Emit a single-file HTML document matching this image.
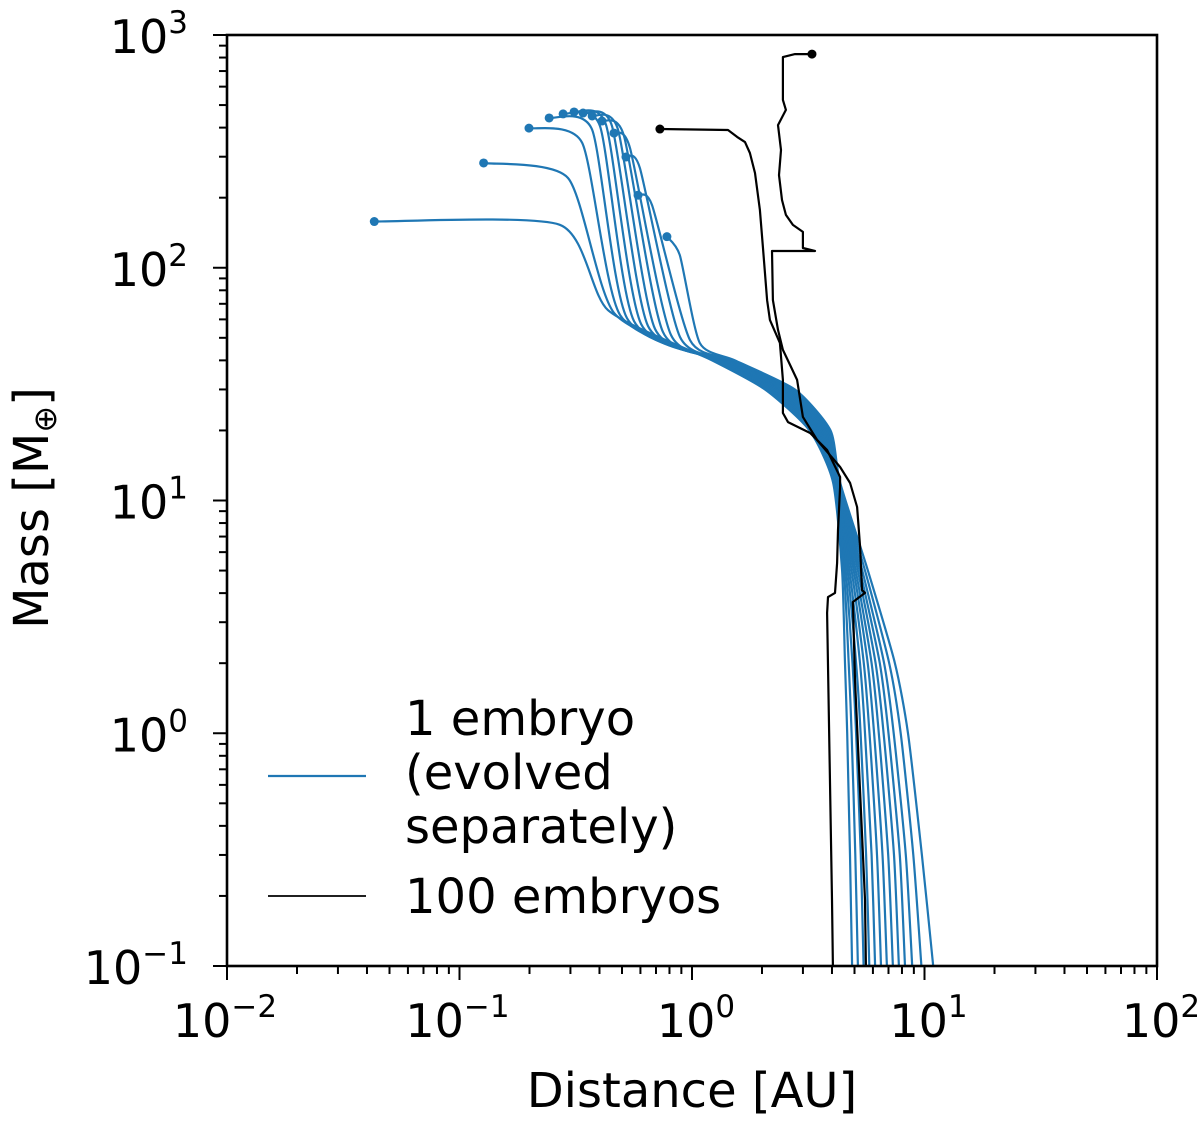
<!DOCTYPE html>
<html><head><meta charset="utf-8">
<style>
html,body{margin:0;padding:0;background:#fff;}
svg{display:block;font-family:"DejaVu Sans","Liberation Sans",sans-serif;}
</style></head>
<body>
<svg id="chart" width="1200" height="1124" viewBox="0 0 1200 1124" xmlns="http://www.w3.org/2000/svg">
  <g id="curves"></g>
  <g id="axes"></g>
  <text x="692" y="1107" font-size="48" text-anchor="middle">Distance [AU]</text>
  <text transform="translate(48,508) rotate(-90)" font-size="48" text-anchor="middle">Mass [M<tspan font-size="32" dy="8">⊕</tspan><tspan dy="-8">]</tspan></text>
  <g>
    <line x1="268" y1="776" x2="366" y2="776" stroke="#1f77b4" stroke-width="2.2"/>
    <text font-size="48" x="405">
      <tspan x="405" y="735">1 embryo</tspan><tspan x="405" y="789">(evolved</tspan><tspan x="405" y="843">separately)</tspan>
    </text>
    <line x1="268" y1="896" x2="366" y2="896" stroke="#000" stroke-width="1.8"/>
    <text font-size="48" x="405" y="913">100 embryos</text>
  </g>
</svg>
<script>
// ---- Blue: 13 single-embryo tracks (AU, Earth masses) ----
const endDist   = [0.043,0.127,0.199,0.243,0.279,0.311,0.340,0.372,0.410,0.462,0.520,0.586,0.780];
const endMass   = [158,282,398,440,458,467,462,449,427,379,299,205,136];
const shoulderDist = [0.270,0.293,0.337,0.372,0.402,0.427,0.453,0.481,0.510,0.541,0.597,0.673,0.887];
const shoulderMass = [153,243,344,391,406,410,406,391,368,327,268,186,113];
const kneeDist  = [0.435,0.462,0.490,0.525,0.563,0.604,0.647,0.693,0.750,0.812,0.888,0.980,1.08];
const kneeMass  = [65.8,64.0,62.7,60.8,59.0,57.3,56.2,54.6,52.9,51.4,50.4,48.9,47.5];
const dAt40  = [1.22,1.24,1.27,1.29,1.32,1.34,1.37,1.39,1.42,1.45,1.48,1.50,1.53];
const dAt30  = [2.06,2.11,2.17,2.22,2.28,2.34,2.40,2.46,2.52,2.58,2.64,2.70,2.77];
const dAt20  = [3.20,3.26,3.32,3.38,3.44,3.50,3.56,3.62,3.68,3.74,3.80,3.87,3.94];
const dAt12  = [4.04,4.06,4.08,4.10,4.13,4.15,4.18,4.20,4.23,4.25,4.28,4.30,4.33];
const dAt5   = [4.42,4.50,4.58,4.67,4.76,4.86,4.96,5.06,5.17,5.28,5.40,5.55,5.71];
const dAt2   = [4.55,4.72,4.90,5.08,5.28,5.48,5.70,5.92,6.16,6.42,6.70,7.05,7.46];
const dAt1   = [4.65,4.86,5.08,5.31,5.55,5.80,6.07,6.36,6.67,7.00,7.37,7.90,8.49];
const dAt03  = [4.78,5.04,5.32,5.61,5.92,6.25,6.60,6.98,7.39,7.83,8.31,8.95,9.75];
const dAt01  = [4.88,5.17,5.47,5.79,6.13,6.50,6.89,7.31,7.76,8.24,8.85,9.70,10.9];
const trackMass = [40,30,20,12,5,2,1,0.3,0.1];

// ---- Black: 100-embryo run, two planets (log10 AU, log10 Earth masses) ----
const blackALogDist = [-0.138,0.155,0.194,0.228,0.249,0.271,0.292,0.305,0.323,0.335,0.378,0.391,0.391,0.413,0.508,0.581,0.637,0.637,0.628,0.624,0.615,0.585,0.581,0.602,0.606];
const blackALogMass = [2.596,2.592,2.562,2.540,2.493,2.407,2.248,2.089,1.861,1.776,1.677,1.518,1.376,1.337,1.290,1.217,1.101,1.058,0.873,0.731,0.603,0.585,0.517,-0.716,-1.0];
const blackBLogDist = [0.516,0.443,0.391,0.391,0.404,0.370,0.383,0.374,0.387,0.404,0.434,0.477,0.477,0.529,0.344,0.348,0.370,0.391,0.422,0.452,0.477,0.538,0.637,0.680,0.710,0.723,0.731,0.744,0.692,0.701,0.744,0.748];
const blackBLogMass = [2.918,2.918,2.905,2.721,2.678,2.613,2.506,2.398,2.291,2.227,2.184,2.154,2.085,2.072,2.072,1.861,1.733,1.647,1.582,1.518,1.359,1.260,1.144,1.075,0.972,0.800,0.615,0.603,0.564,0.229,-0.716,-1.0];

const xTickExp = [-2,-1,0,1,2];
const yTickExp = [-1,0,1,2,3];

const X0=227, X1=1157, Y0=966, Y1=35;
const xMinE=-2, xMaxE=2, yMinE=-1, yMaxE=3;
function xl(le){return X0+(le-xMinE)/(xMaxE-xMinE)*(X1-X0);}
function yl(le){return Y0-(le-yMinE)/(yMaxE-yMinE)*(Y0-Y1);}
function xs(v){return xl(Math.log10(v));}
function ys(v){return yl(Math.log10(v));}
const NS='http://www.w3.org/2000/svg';
function mk(tag,parent){const e=document.createElementNS(NS,tag);parent.appendChild(e);return e;}
function smoothPath(pts){
  const T=9;
  let d='M'+pts[0][0].toFixed(1)+','+pts[0][1].toFixed(1);
  for(let i=0;i<pts.length-1;i++){
    const p0=pts[Math.max(0,i-1)],p1=pts[i],p2=pts[i+1],p3=pts[Math.min(pts.length-1,i+2)];
    const c1=[p1[0]+(p2[0]-p0[0])/T,p1[1]+(p2[1]-p0[1])/T];
    const c2=[p2[0]-(p3[0]-p1[0])/T,p2[1]-(p3[1]-p1[1])/T];
    d+='C'+c1[0].toFixed(1)+','+c1[1].toFixed(1)+' '+c2[0].toFixed(1)+','+c2[1].toFixed(1)+' '+p2[0].toFixed(1)+','+p2[1].toFixed(1);
  }
  return d;
}
const curves=document.getElementById('curves');
const clipDefs=mk('defs',curves);
const cp=mk('clipPath',clipDefs);cp.setAttribute('id','plotclip');
const cr=mk('rect',cp);cr.setAttribute('x',X0);cr.setAttribute('y',Y1-10);cr.setAttribute('width',X1-X0);cr.setAttribute('height',Y0-Y1+10);
const blueG=mk('g',curves);


blueG.setAttribute('clip-path','url(#plotclip)');
const trackArrs=[dAt40,dAt30,dAt20,dAt12,dAt5,dAt2,dAt1,dAt03,dAt01];
for(let i=0;i<endDist.length;i++){
  const pts=[[xs(endDist[i]),ys(endMass[i])],[xs(shoulderDist[i]),ys(shoulderMass[i])],[xs(kneeDist[i]),ys(kneeMass[i])]];
  for(let k=0;k<trackMass.length;k++){
    if(trackArrs[k][i]<=kneeDist[i]*1.05) continue;
    pts.push([xs(trackArrs[k][i]),ys(trackMass[k])]);
  }
  const p=mk('path',blueG);
  
  
  p.setAttribute('d',smoothPath(pts));
  p.setAttribute('fill','none');p.setAttribute('stroke','#1f77b4');p.setAttribute('stroke-width','2.2');
  const c=mk('circle',blueG);
  
  
  c.setAttribute('cx',xs(endDist[i]));c.setAttribute('cy',ys(endMass[i]));c.setAttribute('r','4.5');c.setAttribute('fill','#1f77b4');
}
const blackG=mk('g',curves);


blackG.setAttribute('clip-path','url(#plotclip)');
[[blackALogDist,blackALogMass,'a'],[blackBLogDist,blackBLogMass,'b']].forEach(s=>{
  const pl=mk('polyline',blackG);
  
  
  pl.setAttribute('points',s[0].map((v,j)=>xl(v).toFixed(1)+','+yl(s[1][j]).toFixed(1)).join(' '));
  pl.setAttribute('fill','none');pl.setAttribute('stroke','#000');pl.setAttribute('stroke-width','2.2');pl.setAttribute('stroke-linejoin','round');
  const c=mk('circle',blackG);
  
  
  c.setAttribute('cx',xl(s[0][0]));c.setAttribute('cy',yl(s[1][0]));c.setAttribute('r','4.5');c.setAttribute('fill','#000');
});
// axes
const ax=document.getElementById('axes');
const fr=mk('rect',ax);


fr.setAttribute('x',X0);fr.setAttribute('y',Y1);fr.setAttribute('width',X1-X0);fr.setAttribute('height',Y0-Y1);
fr.setAttribute('fill','none');fr.setAttribute('stroke','#000');fr.setAttribute('stroke-width','2.6');
function tick(x1,y1,x2,y2,name){const l=mk('line',ax);
  
  
  l.setAttribute('x1',x1);l.setAttribute('y1',y1);l.setAttribute('x2',x2);l.setAttribute('y2',y2);l.setAttribute('stroke','#000');l.setAttribute('stroke-width','2');}
function label(x,y,e,anchor,name){const t=mk('text',ax);
  
  
  t.setAttribute('x',x);t.setAttribute('y',y);t.setAttribute('font-size','46');t.setAttribute('text-anchor',anchor);
  const a=mk('tspan',t);a.textContent='10';
  const b=mk('tspan',t);b.setAttribute('font-size','31');b.setAttribute('dy','-20');b.textContent=(e<0?'\u2212':'')+Math.abs(e);}
xTickExp.forEach(e=>{
  const x=xl(e);tick(x,Y0,x,Y0+14,'x-major-tick');
  label(x+(e<0?-2:4),1037,e,'middle','x-tick-label');
  if(e<xMaxE)for(let m=2;m<10;m++){const xm=xl(e+Math.log10(m));tick(xm,Y0,xm,Y0+8,'x-minor-tick');}
});
yTickExp.forEach(e=>{
  const y=yl(e);tick(X0,y,X0-14,y,'y-major-tick');
  label(188,y+18,e,'end','y-tick-label');
  if(e<yMaxE)for(let m=2;m<10;m++){const ym=yl(e+Math.log10(m));tick(X0,ym,X0-8,ym,'y-minor-tick');}
});
</script>
</body></html>
